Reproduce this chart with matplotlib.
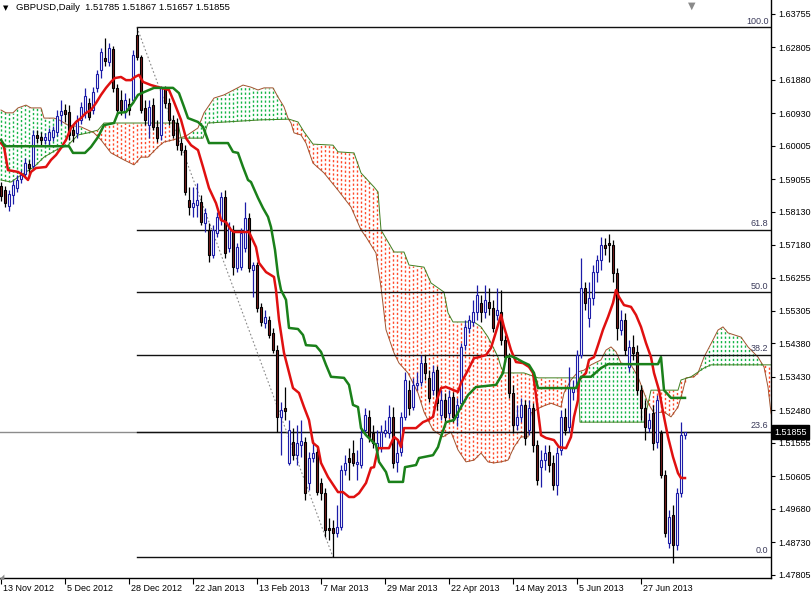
import matplotlib
matplotlib.use("Agg")
import matplotlib.pyplot as plt
import matplotlib.transforms as mtransforms
import numpy as np

plt.rcParams['font.family'] = ['Liberation Sans', 'DejaVu Sans']

# daily bars (open, high, low, close), first bar = 13 Nov 2012
ohlc = [
    (1.5886, 1.5897, 1.5843, 1.5857), (1.5874, 1.5886, 1.5826, 1.5837),
    (1.5829, 1.5874, 1.5815, 1.5863), (1.5860, 1.5903, 1.5835, 1.5889),
    (1.5880, 1.5917, 1.5869, 1.5903), (1.5906, 1.5931, 1.5894, 1.5917),
    (1.5920, 1.5965, 1.5909, 1.5951), (1.5948, 1.5960, 1.5909, 1.5937),
    (1.5943, 1.6045, 1.5931, 1.6031), (1.6031, 1.6045, 1.6008, 1.6022),
    (1.6025, 1.6040, 1.6002, 1.6017), (1.6017, 1.6037, 1.6005, 1.6025),
    (1.6017, 1.6051, 1.5999, 1.6040), (1.6025, 1.6057, 1.6014, 1.6045),
    (1.6040, 1.6102, 1.6028, 1.6085), (1.6088, 1.6131, 1.6062, 1.6099),
    (1.6102, 1.6119, 1.6068, 1.6091), (1.6096, 1.6116, 1.6017, 1.6031),
    (1.6045, 1.6059, 1.6011, 1.6031), (1.6037, 1.6088, 1.6022, 1.6074),
    (1.6074, 1.6125, 1.6062, 1.6111), (1.6094, 1.6165, 1.6079, 1.6142),
    (1.6122, 1.6136, 1.6074, 1.6082), (1.6102, 1.6167, 1.6091, 1.6153),
    (1.6165, 1.6216, 1.6153, 1.6204), (1.6216, 1.6278, 1.6193, 1.6267),
    (1.6250, 1.6307, 1.6227, 1.6241), (1.6239, 1.6293, 1.6227, 1.6278),
    (1.6276, 1.6284, 1.6153, 1.6165), (1.6165, 1.6176, 1.6091, 1.6102),
    (1.6131, 1.6159, 1.6088, 1.6102), (1.6096, 1.6150, 1.6079, 1.6131),
    (1.6119, 1.6136, 1.6088, 1.6102), (1.6131, 1.6273, 1.6122, 1.6259),
    (1.6315, 1.6337, 1.6244, 1.6253), (1.6253, 1.6259, 1.6094, 1.6102),
    (1.6108, 1.6131, 1.6059, 1.6074), (1.6059, 1.6131, 1.6022, 1.6111),
    (1.6116, 1.6136, 1.6045, 1.6054), (1.6054, 1.6074, 1.6011, 1.6022),
    (1.6031, 1.6170, 1.6017, 1.6165), (1.6165, 1.6170, 1.6108, 1.6122),
    (1.6122, 1.6136, 1.6059, 1.6074), (1.6074, 1.6088, 1.6022, 1.6031),
    (1.6065, 1.6079, 1.5988, 1.6002), (1.6008, 1.6022, 1.5974, 1.5988),
    (1.5988, 1.6002, 1.5860, 1.5869), (1.5846, 1.5883, 1.5803, 1.5826),
    (1.5826, 1.5883, 1.5798, 1.5837), (1.5832, 1.5894, 1.5798, 1.5846),
    (1.5840, 1.5860, 1.5775, 1.5783), (1.5781, 1.5823, 1.5755, 1.5809),
    (1.5761, 1.5781, 1.5670, 1.5690), (1.5690, 1.5775, 1.5681, 1.5761),
    (1.5752, 1.5812, 1.5741, 1.5798), (1.5789, 1.5869, 1.5775, 1.5855),
    (1.5855, 1.5874, 1.5681, 1.5695), (1.5709, 1.5783, 1.5698, 1.5769),
    (1.5761, 1.5775, 1.5633, 1.5655), (1.5653, 1.5724, 1.5641, 1.5712),
    (1.5655, 1.5766, 1.5647, 1.5752), (1.5709, 1.5840, 1.5698, 1.5795),
    (1.5795, 1.5809, 1.5641, 1.5653), (1.5647, 1.5670, 1.5570, 1.5661),
    (1.5661, 1.5670, 1.5527, 1.5539), (1.5542, 1.5553, 1.5488, 1.5499),
    (1.5496, 1.5533, 1.5482, 1.5513), (1.5505, 1.5516, 1.5453, 1.5462),
    (1.5468, 1.5482, 1.5411, 1.5419), (1.5419, 1.5433, 1.5186, 1.5229),
    (1.5229, 1.5271, 1.5120, 1.5249), (1.5254, 1.5314, 1.5220, 1.5246),
    (1.5098, 1.5220, 1.5092, 1.5192), (1.5158, 1.5197, 1.5106, 1.5120),
    (1.5120, 1.5206, 1.5092, 1.5155), (1.5149, 1.5220, 1.5115, 1.5160),
    (1.5158, 1.5172, 1.4993, 1.5012), (1.5041, 1.5129, 1.5021, 1.5112),
    (1.5112, 1.5163, 1.5101, 1.5126), (1.5129, 1.5149, 1.5007, 1.5015),
    (1.5041, 1.5055, 1.4993, 1.5012), (1.5012, 1.5027, 1.4887, 1.4907),
    (1.4913, 1.4941, 1.4879, 1.4907), (1.4913, 1.4936, 1.4830, 1.4899),
    (1.4899, 1.4978, 1.4887, 1.4916), (1.4916, 1.5092, 1.4907, 1.5078),
    (1.5078, 1.5120, 1.5064, 1.5098), (1.5112, 1.5140, 1.5049, 1.5101),
    (1.5126, 1.5163, 1.5089, 1.5098), (1.5095, 1.5135, 1.5049, 1.5101),
    (1.5092, 1.5197, 1.5084, 1.5169), (1.5192, 1.5254, 1.5177, 1.5234),
    (1.5229, 1.5249, 1.5158, 1.5172), (1.5183, 1.5206, 1.5140, 1.5155),
    (1.5135, 1.5192, 1.5126, 1.5155), (1.5140, 1.5206, 1.5129, 1.5186),
    (1.5183, 1.5220, 1.5172, 1.5192), (1.5183, 1.5263, 1.5169, 1.5229),
    (1.5229, 1.5257, 1.5084, 1.5098), (1.5101, 1.5163, 1.5072, 1.5126),
    (1.5129, 1.5243, 1.5117, 1.5229), (1.5229, 1.5357, 1.5220, 1.5334),
    (1.5305, 1.5334, 1.5234, 1.5254), (1.5257, 1.5340, 1.5249, 1.5320),
    (1.5320, 1.5357, 1.5305, 1.5325), (1.5328, 1.5405, 1.5317, 1.5382),
    (1.5382, 1.5405, 1.5334, 1.5354), (1.5340, 1.5362, 1.5271, 1.5283),
    (1.5305, 1.5377, 1.5291, 1.5357), (1.5362, 1.5374, 1.5249, 1.5268),
    (1.5234, 1.5305, 1.5220, 1.5277), (1.5277, 1.5297, 1.5217, 1.5229),
    (1.5240, 1.5305, 1.5226, 1.5286), (1.5286, 1.5300, 1.5214, 1.5229),
    (1.5229, 1.5283, 1.5203, 1.5263), (1.5268, 1.5439, 1.5254, 1.5428),
    (1.5433, 1.5505, 1.5419, 1.5485), (1.5482, 1.5519, 1.5468, 1.5505),
    (1.5499, 1.5562, 1.5488, 1.5527), (1.5527, 1.5604, 1.5505, 1.5576),
    (1.5553, 1.5576, 1.5499, 1.5527), (1.5527, 1.5604, 1.5510, 1.5562),
    (1.5556, 1.5596, 1.5519, 1.5539), (1.5539, 1.5562, 1.5471, 1.5482),
    (1.5519, 1.5596, 1.5505, 1.5533), (1.5527, 1.5590, 1.5433, 1.5448),
    (1.5448, 1.5462, 1.5385, 1.5399), (1.5396, 1.5411, 1.5283, 1.5297),
    (1.5297, 1.5320, 1.5183, 1.5206), (1.5206, 1.5263, 1.5192, 1.5229),
    (1.5229, 1.5283, 1.5214, 1.5263), (1.5263, 1.5277, 1.5149, 1.5169),
    (1.5192, 1.5277, 1.5177, 1.5254), (1.5254, 1.5268, 1.5129, 1.5149),
    (1.5149, 1.5163, 1.5035, 1.5049), (1.5086, 1.5135, 1.5030, 1.5106),
    (1.5106, 1.5149, 1.5078, 1.5126), (1.5129, 1.5149, 1.5072, 1.5092),
    (1.5098, 1.5120, 1.5021, 1.5035), (1.5035, 1.5143, 1.5007, 1.5126),
    (1.5135, 1.5249, 1.5120, 1.5229), (1.5229, 1.5254, 1.5177, 1.5192),
    (1.5200, 1.5371, 1.5186, 1.5314), (1.5300, 1.5334, 1.5277, 1.5314),
    (1.5314, 1.5419, 1.5300, 1.5405), (1.5405, 1.5681, 1.5396, 1.5596),
    (1.5596, 1.5613, 1.5533, 1.5553), (1.5510, 1.5613, 1.5485, 1.5567),
    (1.5567, 1.5661, 1.5547, 1.5641), (1.5641, 1.5690, 1.5613, 1.5675),
    (1.5675, 1.5741, 1.5647, 1.5718), (1.5718, 1.5738, 1.5690, 1.5709),
    (1.5724, 1.5749, 1.5670, 1.5718), (1.5718, 1.5732, 1.5613, 1.5638),
    (1.5638, 1.5653, 1.5448, 1.5482), (1.5477, 1.5533, 1.5462, 1.5505),
    (1.5505, 1.5525, 1.5405, 1.5419), (1.5371, 1.5448, 1.5357, 1.5428),
    (1.5428, 1.5462, 1.5391, 1.5411), (1.5414, 1.5433, 1.5291, 1.5305),
    (1.5305, 1.5320, 1.5220, 1.5254), (1.5254, 1.5277, 1.5163, 1.5200),
    (1.5197, 1.5240, 1.5186, 1.5220), (1.5240, 1.5263, 1.5135, 1.5155),
    (1.5158, 1.5291, 1.5140, 1.5277), (1.5183, 1.5192, 1.5055, 1.5064),
    (1.5064, 1.5078, 1.4887, 1.4899), (1.4870, 1.4964, 1.4856, 1.4944),
    (1.4950, 1.4978, 1.4813, 1.4865), (1.4865, 1.5027, 1.4850, 1.5012),
    (1.5012, 1.5214, 1.5001, 1.5177), (1.51785, 1.51867, 1.51657, 1.51855),
]

# Ichimoku lines: (bar index, price)
tenkan = [
    (0, 1.6008), (0.75, 1.5997), (1.75, 1.5931), (4.25, 1.5926), (5.5, 1.5917),
    (6.75, 1.5903), (7.5, 1.5926), (8.75, 1.5937), (11.25, 1.5940), (12.5, 1.5960),
    (13.75, 1.5974), (15, 1.5994), (16.25, 1.6017), (17.5, 1.6051), (18.75, 1.6068),
    (20, 1.6079), (21.25, 1.6094), (22.5, 1.6102), (23.75, 1.6122), (25, 1.6145),
    (26.25, 1.6165), (27.5, 1.6182), (28.5, 1.6193), (30, 1.6196), (31.25, 1.6187),
    (32.5, 1.6187), (33.5, 1.6196), (34.5, 1.6202), (35.5, 1.6182), (37.5, 1.6173),
    (40, 1.6165), (42, 1.6159), (43.25, 1.6125), (45, 1.6074), (46.25, 1.6022),
    (47.5, 1.6002), (49.25, 1.5988), (50.5, 1.5940), (52, 1.5880), (53.75, 1.5837),
    (54.5, 1.5809), (55, 1.5789), (56.25, 1.5783), (57.5, 1.5761), (58.25, 1.5755),
    (62, 1.5755), (63.75, 1.5712), (64.5, 1.5667), (66.25, 1.5641), (68.25, 1.5627),
    (68.75, 1.5590), (69.5, 1.5505), (70.75, 1.5411), (73, 1.5311), (74.5, 1.5297),
    (75.75, 1.5257), (77, 1.5220), (78, 1.5155), (79.25, 1.5143), (80, 1.5098),
    (81.75, 1.5058), (84.25, 1.5015), (85.5, 1.5015), (87, 1.5001), (88.25, 1.5001),
    (89.5, 1.5012), (91.25, 1.5041), (92.5, 1.5084), (93.25, 1.5086), (94.25, 1.5140),
    (97, 1.5140), (98.25, 1.5172), (99.25, 1.5163), (100, 1.5143), (100.75, 1.5197),
    (103.75, 1.5197), (105.5, 1.5214), (106.75, 1.5220), (108, 1.5229), (108.75, 1.5271),
    (110, 1.5311), (111.25, 1.5314), (114.25, 1.5300), (115, 1.5325), (116.75, 1.5362),
    (118.25, 1.5396), (119.5, 1.5399), (121.25, 1.5405), (122.5, 1.5425), (123.75, 1.5471),
    (125, 1.5519), (125.75, 1.5485), (126.75, 1.5448), (127.5, 1.5419), (128.75, 1.5385),
    (130.5, 1.5382), (132, 1.5371), (133, 1.5354), (133.75, 1.5291), (135, 1.5177),
    (136.25, 1.5169), (138.25, 1.5163), (139.5, 1.5143), (141.25, 1.5140), (142.5, 1.5172),
    (143.25, 1.5229), (144.25, 1.5277), (144.5, 1.5334), (146.25, 1.5354), (147, 1.5391),
    (148.25, 1.5399), (149.25, 1.5433), (150.5, 1.5477), (151.75, 1.5513), (153, 1.5553),
    (153.75, 1.5590), (154.5, 1.5570), (155.75, 1.5547), (157.5, 1.5542), (158.75, 1.5519),
    (160, 1.5485), (161.25, 1.5439), (162.5, 1.5399), (163.25, 1.5354), (164.5, 1.5305),
    (165.75, 1.5229), (166.75, 1.5172), (168, 1.5115), (169.25, 1.5069), (170, 1.5055),
    (171, 1.5055),
]

kijun = [
    (0, 1.6017), (1, 1.5999), (17, 1.5999), (18, 1.5980), (21, 1.5980), (22.5, 1.5997),
    (24.25, 1.6025), (25.75, 1.6059), (28.25, 1.6065), (29.25, 1.6094), (31.25, 1.6096),
    (33, 1.6122), (34.25, 1.6145), (35.75, 1.6153), (38.25, 1.6165), (43, 1.6165),
    (44.5, 1.6150), (45.75, 1.6111), (46.75, 1.6079), (49.25, 1.6068), (50.5, 1.6054),
    (51.25, 1.6031), (52, 1.6008), (56.75, 1.6008), (58, 1.5983), (59.25, 1.5980),
    (60.5, 1.5940), (61.75, 1.5903), (62.5, 1.5897), (64.25, 1.5852), (65.5, 1.5823),
    (66.75, 1.5798), (67.5, 1.5769), (68.5, 1.5704), (69.25, 1.5633), (70, 1.5590),
    (71.25, 1.5562), (72, 1.5482), (74.25, 1.5479), (75.5, 1.5462), (76.25, 1.5433),
    (78.75, 1.5431), (80, 1.5414), (81.25, 1.5377), (82.5, 1.5343), (85.75, 1.5340),
    (87, 1.5320), (88, 1.5263), (89.25, 1.5257), (90, 1.5197), (91.25, 1.5177),
    (92.5, 1.5163), (93.75, 1.5149), (94.5, 1.5101), (96.25, 1.5072), (97, 1.5044),
    (100.5, 1.5044), (101, 1.5086), (103.75, 1.5092), (104.5, 1.5112), (108, 1.5120),
    (109.25, 1.5143), (110, 1.5172), (111.25, 1.5214), (113.25, 1.5220), (115, 1.5257),
    (116.75, 1.5291), (118.75, 1.5314), (123.75, 1.5320), (125.5, 1.5354), (126.25, 1.5399),
    (127.5, 1.5402), (128.75, 1.5396), (130.5, 1.5385), (132, 1.5377), (133.25, 1.5354),
    (134.25, 1.5311), (143.75, 1.5311), (145, 1.5343), (147.5, 1.5343), (150, 1.5368),
    (151.75, 1.5379), (164.25, 1.5379), (165, 1.5399), (165.75, 1.5305), (167.5, 1.5283),
    (171, 1.5283),
]

# cloud edges (already shifted 26 bars ahead)
span_a = [
    (0, 1.6102), (1.25, 1.6094), (3, 1.6094), (4.25, 1.6108), (6.25, 1.6116),
    (7.5, 1.6108), (10, 1.6108), (10.75, 1.6079), (13.25, 1.6079), (14.5, 1.6074),
    (16.75, 1.6059), (20, 1.6054), (23.25, 1.6037), (25, 1.6017), (27.5, 1.5980),
    (30.75, 1.5960), (33.25, 1.5946), (35, 1.5968), (36.75, 1.5968), (39.25, 1.5997),
    (40.75, 1.6011), (43, 1.6017), (46.25, 1.6028), (49.25, 1.6051), (50.75, 1.6094),
    (53.25, 1.6136), (55.75, 1.6145), (60.5, 1.6173), (62.5, 1.6167), (64.25, 1.6159),
    (65.75, 1.6165), (68, 1.6165), (69.25, 1.6139), (70.75, 1.6111), (71.75, 1.6079),
    (72.5, 1.6065), (73.25, 1.6037), (75, 1.6031), (76.25, 1.6008), (78, 1.5951),
    (80.75, 1.5923), (84.25, 1.5874), (87.5, 1.5826), (90, 1.5761), (91.25, 1.5741),
    (93.75, 1.5695), (95, 1.5598), (96.25, 1.5477), (98.25, 1.5411), (99.5, 1.5382),
    (101.75, 1.5354), (104.25, 1.5297), (105.75, 1.5243), (106.75, 1.5220), (108, 1.5192),
    (110.5, 1.5172), (112.5, 1.5186), (114.25, 1.5135), (116.25, 1.5101), (118.25, 1.5106),
    (120, 1.5126), (121.75, 1.5101), (123.25, 1.5098), (125, 1.5101), (126.75, 1.5106),
    (128.25, 1.5143), (130, 1.5172), (131.75, 1.5172), (132.5, 1.5240), (135, 1.5257),
    (137.5, 1.5268), (140, 1.5257), (140.75, 1.5297), (142.5, 1.5334), (144.25, 1.5357),
    (145.75, 1.5362), (147.5, 1.5377), (150, 1.5391), (151.25, 1.5419), (152.5, 1.5428),
    (153.75, 1.5414), (155, 1.5382), (157.5, 1.5377), (159.25, 1.5343), (160.5, 1.5305),
    (161.75, 1.5268), (163.25, 1.5240), (165.75, 1.5243), (167.5, 1.5229), (169.25, 1.5257),
    (170.5, 1.5305), (171.25, 1.5340), (173.25, 1.5343), (174.25, 1.5354), (175.75, 1.5399),
    (178, 1.5448), (179.25, 1.5476), (180.5, 1.5485), (181.75, 1.5468), (185, 1.5456),
    (186.75, 1.5428), (189.25, 1.5399), (190.75, 1.5371), (191.75, 1.5314), (192.5, 1.5240),
    (193.75, 1.5192),
]

span_b = [
    (0, 1.5903), (2.5, 1.5897), (5, 1.5917), (8.25, 1.5940), (10.75, 1.5968),
    (13.75, 1.5988), (16.75, 1.6002), (19.25, 1.6031), (21.75, 1.6037), (24.25, 1.6045),
    (25.75, 1.6065), (44.25, 1.6065), (45, 1.6022), (50.5, 1.6022), (51.75, 1.6065),
    (65, 1.6074), (72, 1.6076), (74.25, 1.6068), (75.75, 1.6040), (78, 1.6005),
    (83, 1.6002), (84.25, 1.5983), (88.25, 1.5980), (90, 1.5923), (93.25, 1.5883),
    (94.25, 1.5869), (95, 1.5761), (98.25, 1.5698), (100.75, 1.5698), (102, 1.5661),
    (105.75, 1.5655), (107.5, 1.5610), (110.75, 1.5584), (111.75, 1.5525), (113, 1.5499),
    (118.25, 1.5499), (120, 1.5485), (121.75, 1.5456), (123, 1.5428), (124.25, 1.5399),
    (125, 1.5371), (125.75, 1.5354), (130.75, 1.5354), (134.25, 1.5340), (144.25, 1.5340),
    (144.75, 1.5214), (160.75, 1.5214), (162.5, 1.5305), (169.25, 1.5305), (170, 1.5334),
    (172.5, 1.5343), (175.75, 1.5368), (177.5, 1.5377), (193.75, 1.5377),
]

date_labels = ["13 Nov 2012", "5 Dec 2012", "28 Dec 2012", "22 Jan 2013",
               "13 Feb 2013", "7 Mar 2013", "29 Mar 2013", "22 Apr 2013",
               "14 May 2013", "5 Jun 2013", "27 Jun 2013"]
price_ticks = [1.47805, 1.48730, 1.49680, 1.50605, 1.51555, 1.52480, 1.53430,
               1.54380, 1.55305, 1.56255, 1.57180, 1.58130, 1.59055, 1.60005,
               1.60930, 1.61880, 1.62805, 1.63755]
fib_ratios = [1.0, 0.618, 0.5, 0.382, 0.236, 0.0]
fib_labels = ["100.0", "61.8", "50.0", "38.2", "23.6", "0.0"]
fib_from, fib_to = 34, 83  # swing high bar, swing low bar

BULL = "#1c1ca8"
BEAR_FILL = "#7a1e1e"
TEXT_SZ = 6.5

fig = plt.figure(figsize=(8.11, 5.93), dpi=100)
ax = fig.add_axes([0, 15 / 593, 771 / 811, 578 / 593])
ax.set_xlim(-0.25, 192.5)
ax.set_ylim(1.47706, 1.6415)

# cloud hatching: dotted vertical strokes every bar
cx = np.arange(0, 195)
sa = np.interp(cx, [p[0] for p in span_a], [p[1] for p in span_a])
sb = np.interp(cx, [p[0] for p in span_b], [p[1] for p in span_b])
up = sa >= sb
ax.vlines(cx[up], sb[up], sa[up], colors="#14b446", lw=1.0,
          linestyles=(0, (1.6, 1.6)), zorder=1)
ax.vlines(cx[~up], sa[~up], sb[~up], colors="#ff4a2a", lw=1.0,
          linestyles=(0, (1.6, 1.6)), zorder=1)
ax.plot([p[0] for p in span_a], [p[1] for p in span_a], color="#a0522d", lw=0.7, zorder=2)
ax.plot([p[0] for p in span_b], [p[1] for p in span_b], color="#3f7f1f", lw=0.7, zorder=2)

# fibonacci retracement
hi = ohlc[fib_from][1]
lo = ohlc[fib_to][2]
last = ohlc[-1]
ax.axhline(last[3], color="#8c8c8c", lw=1, zorder=2)
for r, lab in zip(fib_ratios, fib_labels):
    lvl = lo + (hi - lo) * r
    ax.plot([fib_from, 192.5], [lvl, lvl], color="#111111", lw=1, zorder=3)
    ax.text(191.9, lvl + 0.0005, lab, ha="right", va="bottom",
            fontsize=TEXT_SZ, color="#3a3a5a", zorder=6)
ax.plot([fib_from, fib_to], [hi, lo], color="#888888", lw=0.8,
        linestyle=(0, (1.5, 2)), zorder=3)

# candles
for i, (o, h, l, c) in enumerate(ohlc):
    bull = c >= o
    ax.vlines(i, l, h, color=BULL if bull else "black", lw=0.9, zorder=4)
    ax.bar(i, max(abs(c - o), 0.00006), bottom=min(o, c), width=0.62,
           color="white" if bull else BEAR_FILL,
           edgecolor=BULL if bull else "black", linewidth=0.8, zorder=5)

ax.plot([p[0] for p in tenkan], [p[1] for p in tenkan], color="#e01010", lw=1.8, zorder=6)
ax.plot([p[0] for p in kijun], [p[1] for p in kijun], color="#1a801a", lw=1.8, zorder=6)

# axes styling
for s in ("top", "left"):
    ax.spines[s].set_visible(False)
ax.spines["right"].set_linewidth(1)
ax.spines["bottom"].set_linewidth(1)
ax.yaxis.tick_right()
ax.set_yticks(price_ticks)
ax.set_yticklabels(["%.5f" % v for v in price_ticks])
ax.tick_params(axis="y", length=3, width=0.8, pad=2, labelsize=TEXT_SZ)
ax.set_xticks(np.arange(len(date_labels)) * 16)
ax.set_xticklabels(date_labels)
ax.tick_params(axis="x", length=4, width=0.8, pad=0.5, labelsize=TEXT_SZ)
offset = mtransforms.ScaledTranslation(2 / 100, 0, fig.dpi_scale_trans)
for t in ax.get_xticklabels():
    t.set_ha("left")
    t.set_transform(t.get_transform() + offset)

# current price box
trans = mtransforms.blended_transform_factory(ax.transAxes, ax.transData)
ax.text(1.004, last[3], "%.5f" % last[3], transform=trans, ha="left", va="center",
        fontsize=TEXT_SZ, color="white", zorder=10, clip_on=False,
        bbox=dict(boxstyle="square,pad=0.25", fc="black", ec="black"))

# header text and chart markers
fig.text(3 / 811, 1 - 10 / 593, "\u25bc", fontsize=5, color="black",
         va="baseline", family="DejaVu Sans")
fig.text(16 / 811, 1 - 10 / 593,
         "GBPUSD,Daily  %.5f %.5f %.5f %.5f" % last,
         fontsize=6.8, color="black", va="baseline")
fig.text(692 / 811, 1 - 1 / 593, "\u25bc", fontsize=7, color="#8a8a8a",
         ha="center", va="top", family="DejaVu Sans")
fig.text(2 / 811, 16 / 593, "\u25e2", fontsize=5, color="#8a8a8a",
         ha="center", va="center", family="DejaVu Sans")

fig.savefig("out.png", dpi=100, facecolor="white")
